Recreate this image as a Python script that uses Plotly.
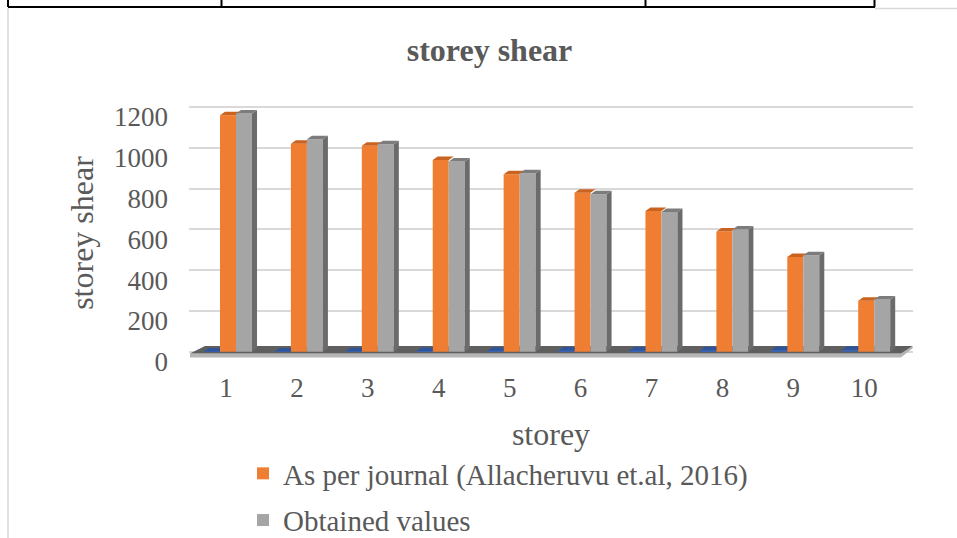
import plotly.graph_objects as go

# ---------------- data ----------------
storeys = [1, 2, 3, 4, 5, 6, 7, 8, 9, 10]
storey_series = [1, 2, 3, 4, 5, 6, 7, 8, 9, 10]          # blue (storey column plotted as a series)
journal = [1160, 1020, 1010, 940, 870, 780, 690, 590, 465, 250]
obtained = [1168, 1042, 1018, 933, 876, 773, 685, 600, 473, 257]
y_ticks = [0, 200, 400, 600, 800, 1000, 1200]

name_journal = "As per journal (Allacheruvu et.al, 2016)"
name_obtained = "Obtained values"

# ---------------- geometry / style ----------------
W, H = 957, 538
L, T, B = 189, 105, 177
XR = [0.45, 10.66]
YR = [-45, 1210]
px_x = 70.9
PW = round(px_x * (XR[1] - XR[0]))
R = W - L - PW
PH = H - T - B
px_y = PH / (YR[1] - YR[0])
BW = 16 / px_x          # bar width
DX = 5 / px_x           # depth offset x
DY = 3.5 / px_y         # depth offset y

FONT = "Liberation Serif, Times New Roman, serif"
TXT = "#595959"
C_BLUE, C_BLUE_TOP = "#3C64AE", "#2E559A"
C_OR, C_OR_TOP = "#EF7E32", "#C9631F"
C_GR, C_GR_SIDE, C_GR_TOP = "#A5A5A5", "#6B6B6B", "#7C7C7C"

fig = go.Figure()

# front faces
fig.add_trace(go.Bar(x=storeys, y=storey_series, width=BW, offset=-1.5 * BW,
                     marker=dict(color=C_BLUE, line=dict(width=0)), showlegend=False,
                     name="storey"))
fig.add_trace(go.Bar(x=storeys, y=journal, width=BW, offset=-0.5 * BW,
                     marker=dict(color=C_OR, line=dict(width=0)), name=name_journal,
                     legendgroup="a"))
fig.add_trace(go.Bar(x=storeys, y=obtained, width=BW, offset=0.5 * BW,
                     marker=dict(color=C_GR, line=dict(width=0)), name=name_obtained,
                     legendgroup="b"))


def poly_trace(xs, ys, color):
    return go.Scatter(x=xs, y=ys, mode="lines", fill="toself", fillcolor=color,
                      line=dict(width=0, color=color), hoverinfo="skip", showlegend=False)


# blue top faces (right part hidden behind orange front)
bx, by = [], []
for c, v in zip(storeys, storey_series):
    xl, xr = c - 1.5 * BW, c - 0.5 * BW
    bx += [xl, xr, xr, xl + DX, xl, None]
    by += [v, v, v + DY, v + DY, v, None]
fig.add_trace(poly_trace(bx, by, C_BLUE_TOP))

# orange top faces (clipped by the gray front)
ox, oy = [], []
for c, v, g in zip(storeys, journal, obtained):
    xl, xr = c - 0.5 * BW, c + 0.5 * BW
    gc = min(max(g, v), v + DY)
    ox += [xl, xr, xr, xr + DX * (gc - v) / DY, xr + DX, xl + DX, xl, None]
    oy += [v, v, gc, gc, v + DY, v + DY, v, None]
fig.add_trace(poly_trace(ox, oy, C_OR_TOP))

# gray side faces
sx, sy = [], []
for c, v in zip(storeys, obtained):
    xr = c + 1.5 * BW
    sx += [xr, xr, xr + DX, xr + DX, xr, None]
    sy += [0, v, v + DY, DY, 0, None]
fig.add_trace(poly_trace(sx, sy, C_GR_SIDE))

# gray top faces
tx, ty = [], []
for c, v in zip(storeys, obtained):
    xl, xr = c + 0.5 * BW, c + 1.5 * BW
    tx += [xl, xr, xr + DX, xl + DX, xl, None]
    ty += [v, v, v + DY, v + DY, v, None]
fig.add_trace(poly_trace(tx, ty, C_GR_TOP))

# ---------------- decorations ----------------
def pxp(px):   # pixel x -> paper
    return (px - L) / PW


def pyp(py):   # pixel y -> paper
    return (H - B - py) / PH


shapes = []
# floor slab (below traces)
f_front, f_back, f_edge = -8, 28, -28
fl_front_l, fl_front_r, fl_back_l, fl_back_r = 0.464, 10.49, 0.676, 10.655
shapes.append(dict(type="path", xref="x", yref="y", layer="between",
                   path=f"M {fl_front_l},{f_front} L {fl_front_r},{f_front} L {fl_back_r},{f_back} "
                        f"L {fl_back_r},{f_back - 10} L {fl_front_r},{f_edge} L {fl_front_l},{f_edge} Z",
                   fillcolor="#B5B5B5", line=dict(width=0)))
shapes.append(dict(type="path", xref="x", yref="y", layer="between",
                   path=f"M {fl_front_l},{f_front} L {fl_front_r},{f_front} L {fl_back_r},{f_back} "
                        f"L {fl_back_l},{f_back} Z",
                   fillcolor="#5F5F5F", line=dict(width=0)))
# document table lines and chart border
shapes.append(dict(type="line", xref="paper", yref="paper", x0=pxp(8), x1=pxp(875),
                   y0=pyp(7), y1=pyp(7), line=dict(color="black", width=2)))
for vx in [8, 221.5, 645.5, 874.5]:
    shapes.append(dict(type="line", xref="paper", yref="paper", x0=pxp(vx), x1=pxp(vx),
                       y0=pyp(-2), y1=pyp(7), line=dict(color="black", width=2)))
shapes.append(dict(type="line", xref="paper", yref="paper", x0=pxp(875), x1=pxp(960),
                   y0=pyp(8.5), y1=pyp(8.5), line=dict(color="#D9D9D9", width=1.5)))
shapes.append(dict(type="line", xref="paper", yref="paper", x0=pxp(8), x1=pxp(8),
                   y0=pyp(8), y1=pyp(540), line=dict(color="#D9D9D9", width=1.5)))

fig.update_layout(
    width=W, height=H,
    margin=dict(l=L, r=R, t=T, b=B, autoexpand=False),
    paper_bgcolor="white", plot_bgcolor="white",
    barmode="overlay",
    font=dict(family=FONT, color=TXT),
    title=dict(text="<b>storey shear</b>", font=dict(size=32, family=FONT, color=TXT),
               xref="paper", x=pxp(489.5), xanchor="center",
               yref="container", y=1 - 50 / H, yanchor="middle"),
    xaxis=dict(range=XR, tickmode="array", tickvals=storeys, ticktext=[str(s) for s in storeys],
               showgrid=False, zeroline=False, showline=False, ticks="",
               tickfont=dict(size=27, family=FONT, color=TXT), ticklabelstandoff=8,
               ticklabelshift=-2,
               title=dict(text="storey", font=dict(size=32, family=FONT, color=TXT), standoff=20),
               fixedrange=True),
    yaxis=dict(range=YR, tickmode="array", tickvals=y_ticks,
               showgrid=True, gridcolor="#D9D9D9", gridwidth=1.5, zeroline=False, showline=False,
               ticks="", tickfont=dict(size=27, family=FONT, color=TXT),
               ticklabelstandoff=20, ticklabelshift=10,
               title=dict(text="storey shear", font=dict(size=32, family=FONT, color=TXT), standoff=10),
               fixedrange=True),
    legend=dict(x=pxp(243), xanchor="left", y=pyp(448), yanchor="top",
                font=dict(size=29, family=FONT, color=TXT), traceorder="grouped",
                tracegroupgap=6, bgcolor="rgba(0,0,0,0)"),
    shapes=shapes,
)

fig.write_html("out.html", config={"displayModeBar": False},
               post_script="document.body.style.margin='0';document.body.style.overflow='hidden';")
